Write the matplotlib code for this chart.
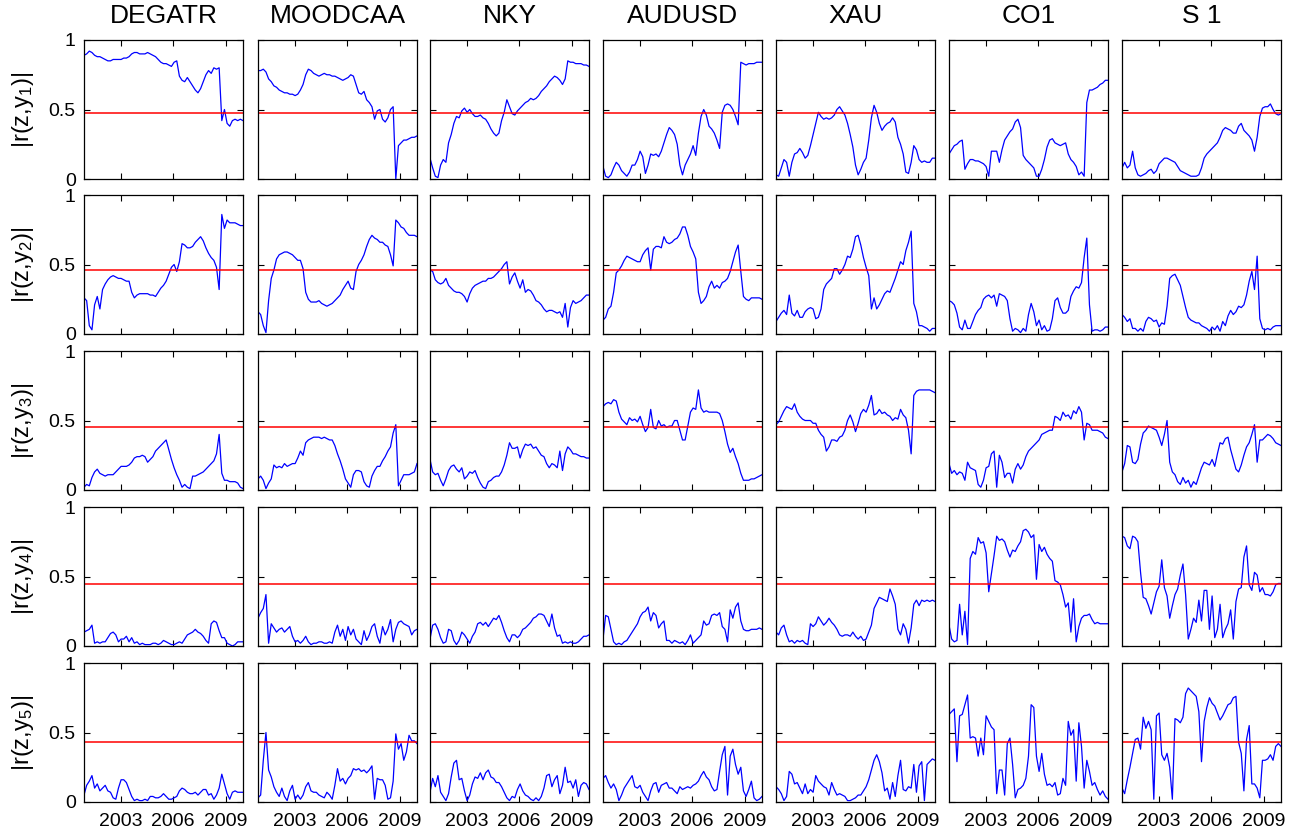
import numpy as np
import matplotlib
matplotlib.use('Agg')
import matplotlib.pyplot as plt

plt.rcParams['font.family'] = ['Liberation Sans', 'DejaVu Sans']
plt.rcParams['mathtext.fontset'] = 'custom'
plt.rcParams['mathtext.rm'] = 'Liberation Sans'
plt.rcParams['mathtext.it'] = 'Liberation Sans'

#time axis (monthly-ish samples over the window) and panel labels
years = np.linspace(2000.9, 2010.0, 61)
assets = ['DEGATR', 'MOODCAA', 'NKY', 'AUDUSD', 'XAU', 'CO1', 'S 1']
thresholds = [0.476, 0.463, 0.451, 0.443, 0.431]
xticks = [2003, 2006, 2009]

#row 1: |r(z,y1)|
degatr_1 = [0.89,0.90,0.92,0.91,0.89,0.88,0.88,0.87,0.86,0.85,
            0.85,0.86,0.86,0.86,0.86,0.87,0.87,0.88,0.90,0.91,
            0.91,0.90,0.90,0.90,0.91,0.90,0.89,0.88,0.86,0.84,
            0.83,0.83,0.82,0.81,0.84,0.85,0.74,0.71,0.70,0.73,
            0.70,0.67,0.64,0.62,0.65,0.70,0.75,0.78,0.76,0.80,
            0.79,0.80,0.42,0.50,0.40,0.38,0.42,0.43,0.42,0.43,0.42]
moodcaa_1 = [0.78,0.78,0.79,0.77,0.72,0.70,0.67,0.66,0.64,0.63,
             0.62,0.62,0.61,0.61,0.60,0.61,0.64,0.68,0.75,0.79,
             0.78,0.76,0.75,0.74,0.75,0.76,0.75,0.75,0.74,0.74,
             0.73,0.72,0.71,0.72,0.73,0.75,0.74,0.68,0.62,0.61,
             0.63,0.57,0.55,0.52,0.43,0.49,0.50,0.43,0.41,0.44,
             0.50,0.52,0.00,0.24,0.26,0.28,0.28,0.29,0.30,0.30,0.31]
nky_1 = [0.15,0.08,0.02,0.01,0.10,0.14,0.12,0.26,0.32,0.40,
         0.45,0.44,0.49,0.51,0.48,0.50,0.47,0.45,0.45,0.46,
         0.44,0.43,0.40,0.36,0.33,0.31,0.33,0.42,0.48,0.57,
         0.52,0.47,0.46,0.49,0.51,0.53,0.55,0.56,0.58,0.57,
         0.58,0.60,0.63,0.65,0.67,0.70,0.72,0.74,0.73,0.71,
         0.68,0.72,0.85,0.84,0.84,0.83,0.83,0.83,0.82,0.82,0.81]
audusd_1 = [0.09,0.02,0.01,0.03,0.08,0.12,0.10,0.06,0.04,0.02,
            0.05,0.10,0.10,0.14,0.20,0.16,0.04,0.10,0.18,0.17,
            0.18,0.16,0.20,0.26,0.32,0.37,0.35,0.32,0.25,0.10,
            0.03,0.10,0.14,0.18,0.24,0.17,0.33,0.45,0.50,0.46,
            0.38,0.36,0.33,0.28,0.22,0.48,0.53,0.54,0.53,0.50,
            0.45,0.39,0.84,0.83,0.82,0.83,0.83,0.83,0.84,0.84,0.84]
xau_1 = [0.03,0.02,0.08,0.14,0.12,0.02,0.12,0.18,0.19,0.22,
         0.19,0.15,0.17,0.24,0.32,0.40,0.48,0.45,0.43,0.44,
         0.43,0.44,0.46,0.50,0.52,0.49,0.46,0.40,0.32,0.23,
         0.10,0.03,0.07,0.12,0.15,0.28,0.44,0.53,0.48,0.40,
         0.35,0.38,0.40,0.41,0.44,0.41,0.30,0.25,0.18,0.05,
         0.04,0.12,0.24,0.21,0.14,0.12,0.13,0.12,0.12,0.15,0.15]
co1_1 = [0.18,0.21,0.24,0.25,0.27,0.28,0.07,0.11,0.14,0.14,
         0.13,0.13,0.12,0.11,0.09,0.02,0.20,0.20,0.20,0.12,
         0.21,0.28,0.31,0.34,0.36,0.41,0.43,0.37,0.17,0.14,
         0.12,0.10,0.08,0.02,0.02,0.07,0.14,0.23,0.28,0.29,
         0.26,0.25,0.24,0.25,0.26,0.18,0.14,0.12,0.09,0.03,
         0.05,0.02,0.55,0.64,0.64,0.65,0.66,0.68,0.69,0.71,0.71]
s1_1 = [0.08,0.12,0.08,0.10,0.20,0.08,0.03,0.02,0.03,0.04,
        0.06,0.07,0.04,0.06,0.11,0.13,0.15,0.15,0.14,0.13,
        0.12,0.09,0.06,0.05,0.04,0.03,0.02,0.02,0.02,0.03,
        0.08,0.15,0.18,0.20,0.22,0.24,0.26,0.30,0.35,0.37,
        0.36,0.35,0.33,0.33,0.38,0.40,0.35,0.33,0.31,0.28,
        0.20,0.30,0.45,0.51,0.52,0.52,0.54,0.50,0.47,0.46,0.47]

#row 2: |r(z,y2)|
degatr_2 = [0.26,0.24,0.06,0.03,0.21,0.27,0.18,0.32,0.36,0.39,
            0.41,0.42,0.41,0.40,0.40,0.39,0.38,0.38,0.30,0.26,
            0.28,0.29,0.29,0.29,0.29,0.28,0.28,0.27,0.30,0.33,
            0.35,0.38,0.43,0.48,0.50,0.45,0.52,0.65,0.64,0.62,
            0.62,0.63,0.66,0.68,0.70,0.67,0.62,0.58,0.55,0.53,
            0.48,0.32,0.86,0.76,0.82,0.80,0.80,0.80,0.79,0.78,0.78]
moodcaa_2 = [0.16,0.14,0.06,0.01,0.24,0.40,0.46,0.54,0.57,0.58,
             0.59,0.59,0.58,0.57,0.55,0.53,0.53,0.47,0.30,0.25,
             0.23,0.23,0.23,0.24,0.22,0.21,0.20,0.21,0.22,0.24,
             0.26,0.28,0.32,0.35,0.38,0.33,0.32,0.45,0.50,0.53,
             0.57,0.63,0.68,0.71,0.69,0.68,0.66,0.66,0.64,0.63,
             0.57,0.49,0.82,0.80,0.77,0.76,0.73,0.71,0.71,0.71,0.70]
nky_2 = [0.46,0.45,0.39,0.37,0.36,0.37,0.40,0.35,0.33,0.31,
         0.30,0.30,0.29,0.27,0.23,0.29,0.33,0.35,0.36,0.37,
         0.38,0.38,0.40,0.40,0.41,0.43,0.45,0.47,0.50,0.52,
         0.36,0.41,0.44,0.38,0.33,0.39,0.30,0.32,0.31,0.28,
         0.24,0.23,0.21,0.18,0.16,0.17,0.17,0.16,0.15,0.16,
         0.12,0.22,0.05,0.19,0.24,0.22,0.23,0.24,0.26,0.28,0.28]
audusd_2 = [0.10,0.12,0.18,0.20,0.30,0.44,0.46,0.49,0.53,0.56,
            0.55,0.54,0.53,0.52,0.52,0.57,0.60,0.62,0.46,0.61,
            0.63,0.63,0.62,0.70,0.66,0.65,0.66,0.68,0.69,0.72,
            0.77,0.77,0.71,0.63,0.59,0.54,0.30,0.22,0.24,0.27,
            0.34,0.38,0.33,0.35,0.33,0.37,0.38,0.40,0.45,0.52,
            0.59,0.64,0.45,0.27,0.25,0.24,0.26,0.26,0.26,0.26,0.25]
xau_2 = [0.09,0.12,0.15,0.17,0.14,0.28,0.15,0.13,0.17,0.12,
         0.12,0.16,0.18,0.19,0.18,0.11,0.12,0.18,0.32,0.36,
         0.38,0.40,0.47,0.47,0.43,0.46,0.50,0.56,0.55,0.61,
         0.70,0.71,0.64,0.55,0.48,0.42,0.18,0.26,0.18,0.21,
         0.25,0.29,0.31,0.30,0.35,0.40,0.46,0.52,0.50,0.60,
         0.66,0.74,0.22,0.16,0.06,0.06,0.05,0.04,0.02,0.04,0.04]
co1_2 = [0.24,0.23,0.21,0.15,0.05,0.03,0.10,0.04,0.04,0.09,
         0.14,0.17,0.19,0.25,0.27,0.28,0.26,0.28,0.20,0.29,
         0.28,0.27,0.24,0.11,0.02,0.04,0.03,0.01,0.04,0.02,
         0.14,0.22,0.16,0.06,0.10,0.03,0.06,0.02,0.03,0.11,
         0.24,0.26,0.19,0.15,0.15,0.17,0.27,0.31,0.34,0.33,
         0.37,0.55,0.69,0.21,0.02,0.03,0.03,0.02,0.03,0.05,0.05]
s1_2 = [0.14,0.12,0.09,0.11,0.04,0.04,0.02,0.04,0.02,0.09,
        0.12,0.11,0.09,0.10,0.05,0.08,0.07,0.20,0.40,0.42,
        0.43,0.39,0.35,0.27,0.19,0.12,0.10,0.09,0.08,0.08,
        0.06,0.05,0.04,0.02,0.05,0.03,0.06,0.02,0.09,0.06,
        0.13,0.17,0.14,0.16,0.20,0.19,0.21,0.28,0.38,0.45,
        0.32,0.56,0.11,0.04,0.03,0.04,0.03,0.05,0.06,0.06,0.06]

#row 3: |r(z,y3)|
degatr_3 = [0.02,0.04,0.03,0.09,0.13,0.15,0.12,0.11,0.10,0.11,
            0.11,0.11,0.13,0.15,0.17,0.17,0.17,0.18,0.20,0.23,
            0.24,0.24,0.25,0.24,0.20,0.22,0.24,0.28,0.30,0.32,
            0.34,0.36,0.29,0.22,0.16,0.11,0.07,0.02,0.04,0.02,
            0.01,0.10,0.10,0.11,0.12,0.13,0.15,0.17,0.19,0.21,
            0.26,0.40,0.12,0.07,0.07,0.06,0.06,0.06,0.05,0.02,0.01]
moodcaa_3 = [0.08,0.10,0.07,0.01,0.05,0.08,0.18,0.16,0.17,0.16,
             0.19,0.17,0.18,0.19,0.19,0.23,0.28,0.25,0.34,0.36,
             0.37,0.38,0.38,0.38,0.37,0.38,0.37,0.36,0.36,0.32,
             0.26,0.21,0.15,0.08,0.05,0.02,0.11,0.14,0.14,0.13,
             0.06,0.03,0.02,0.10,0.14,0.17,0.17,0.21,0.24,0.28,
             0.31,0.41,0.47,0.03,0.07,0.11,0.11,0.11,0.12,0.13,0.19]
nky_3 = [0.22,0.13,0.11,0.12,0.07,0.03,0.08,0.14,0.17,0.18,
         0.15,0.13,0.16,0.08,0.10,0.13,0.12,0.14,0.09,0.05,
         0.02,0.01,0.06,0.07,0.09,0.10,0.10,0.13,0.18,0.25,
         0.34,0.30,0.30,0.31,0.23,0.29,0.33,0.32,0.33,0.30,
         0.31,0.28,0.25,0.24,0.19,0.16,0.19,0.18,0.16,0.28,
         0.14,0.26,0.31,0.29,0.26,0.26,0.25,0.24,0.24,0.23,0.23]
audusd_3 = [0.60,0.62,0.63,0.62,0.65,0.64,0.56,0.51,0.49,0.47,
            0.52,0.50,0.51,0.49,0.53,0.47,0.42,0.45,0.58,0.45,
            0.44,0.50,0.46,0.47,0.45,0.46,0.46,0.50,0.50,0.43,
            0.36,0.36,0.46,0.56,0.59,0.58,0.72,0.59,0.56,0.57,
            0.56,0.56,0.56,0.56,0.55,0.50,0.42,0.33,0.27,0.30,
            0.24,0.19,0.12,0.07,0.07,0.07,0.08,0.08,0.09,0.10,0.11]
xau_3 = [0.47,0.49,0.53,0.57,0.60,0.59,0.58,0.62,0.56,0.53,
         0.51,0.50,0.50,0.50,0.48,0.48,0.43,0.40,0.38,0.28,
         0.31,0.36,0.36,0.35,0.38,0.39,0.43,0.50,0.54,0.49,
         0.42,0.48,0.55,0.58,0.56,0.61,0.68,0.54,0.55,0.58,
         0.55,0.56,0.54,0.53,0.50,0.52,0.51,0.58,0.54,0.52,
         0.43,0.26,0.68,0.71,0.72,0.72,0.72,0.72,0.72,0.71,0.70]
co1_3 = [0.19,0.12,0.14,0.11,0.13,0.12,0.07,0.20,0.16,0.15,
         0.14,0.04,0.02,0.07,0.16,0.17,0.26,0.28,0.02,0.25,
         0.20,0.09,0.12,0.12,0.05,0.15,0.19,0.15,0.18,0.24,
         0.28,0.30,0.32,0.34,0.36,0.40,0.41,0.42,0.43,0.43,
         0.53,0.52,0.50,0.56,0.53,0.54,0.51,0.57,0.55,0.60,
         0.56,0.36,0.48,0.47,0.43,0.43,0.43,0.42,0.41,0.38,0.37]
s1_3 = [0.13,0.19,0.32,0.31,0.20,0.19,0.22,0.33,0.41,0.43,
        0.46,0.45,0.44,0.43,0.38,0.32,0.40,0.50,0.20,0.13,
        0.11,0.06,0.04,0.09,0.05,0.07,0.02,0.06,0.04,0.10,
        0.16,0.20,0.19,0.18,0.22,0.17,0.26,0.34,0.33,0.37,
        0.38,0.29,0.22,0.15,0.13,0.18,0.25,0.31,0.34,0.40,
        0.47,0.20,0.36,0.36,0.38,0.40,0.39,0.37,0.34,0.33,0.32]

#row 4: |r(z,y4)|
degatr_4 = [0.10,0.11,0.12,0.15,0.02,0.03,0.02,0.03,0.03,0.06,
            0.09,0.10,0.08,0.03,0.05,0.05,0.07,0.03,0.06,0.02,
            0.03,0.01,0.02,0.01,0.01,0.01,0.02,0.02,0.01,0.02,
            0.04,0.03,0.02,0.01,0.01,0.02,0.03,0.02,0.05,0.08,
            0.09,0.10,0.12,0.10,0.09,0.07,0.04,0.02,0.16,0.18,
            0.17,0.11,0.06,0.06,0.02,0.01,0.00,0.01,0.03,0.03,0.03]
moodcaa_4 = [0.20,0.24,0.27,0.37,0.02,0.16,0.13,0.10,0.12,0.13,
             0.10,0.12,0.14,0.07,0.03,0.04,0.02,0.04,0.07,0.03,
             0.01,0.02,0.02,0.03,0.03,0.02,0.02,0.03,0.02,0.10,
             0.15,0.07,0.12,0.04,0.14,0.08,0.12,0.05,0.03,0.01,
             0.11,0.04,0.08,0.14,0.16,0.07,0.02,0.14,0.08,0.12,
             0.19,0.03,0.12,0.17,0.18,0.16,0.15,0.14,0.08,0.11,0.12]
nky_4 = [0.05,0.15,0.16,0.12,0.06,0.02,0.03,0.12,0.11,0.04,
         0.01,0.04,0.10,0.08,0.05,0.02,0.07,0.10,0.16,0.17,
         0.15,0.17,0.14,0.17,0.20,0.19,0.22,0.17,0.11,0.06,
         0.03,0.08,0.08,0.06,0.08,0.12,0.13,0.15,0.17,0.20,
         0.21,0.23,0.23,0.22,0.18,0.14,0.23,0.13,0.07,0.08,
         0.02,0.03,0.02,0.03,0.02,0.02,0.03,0.05,0.07,0.07,0.08]
audusd_4 = [0.05,0.22,0.21,0.12,0.03,0.01,0.02,0.01,0.03,0.04,
            0.07,0.10,0.13,0.16,0.21,0.24,0.25,0.28,0.18,0.24,
            0.22,0.13,0.16,0.18,0.04,0.04,0.02,0.04,0.03,0.02,
            0.03,0.01,0.04,0.08,0.02,0.04,0.06,0.08,0.18,0.15,
            0.16,0.22,0.23,0.22,0.24,0.14,0.12,0.03,0.26,0.20,
            0.28,0.31,0.18,0.12,0.11,0.11,0.12,0.12,0.12,0.13,0.12]
xau_4 = [0.10,0.08,0.13,0.15,0.08,0.03,0.04,0.02,0.04,0.03,
         0.04,0.02,0.01,0.16,0.14,0.16,0.21,0.18,0.15,0.17,
         0.20,0.17,0.15,0.12,0.08,0.07,0.08,0.08,0.07,0.10,
         0.07,0.05,0.07,0.04,0.05,0.10,0.15,0.27,0.31,0.35,
         0.34,0.33,0.32,0.41,0.36,0.30,0.12,0.08,0.16,0.12,
         0.02,0.13,0.30,0.33,0.29,0.33,0.32,0.33,0.32,0.33,0.32]
co1_4 = [0.15,0.05,0.03,0.04,0.30,0.08,0.25,0.01,0.63,0.68,
         0.66,0.78,0.74,0.75,0.67,0.39,0.52,0.65,0.79,0.76,
         0.77,0.75,0.69,0.64,0.69,0.68,0.72,0.75,0.83,0.84,
         0.82,0.78,0.80,0.48,0.73,0.68,0.71,0.66,0.63,0.61,
         0.47,0.46,0.44,0.37,0.28,0.31,0.10,0.34,0.03,0.14,
         0.20,0.22,0.22,0.23,0.19,0.16,0.17,0.16,0.16,0.16,0.16]
s1_4 = [0.79,0.78,0.72,0.70,0.79,0.78,0.75,0.53,0.35,0.34,
        0.29,0.23,0.31,0.39,0.43,0.62,0.42,0.36,0.20,0.29,
        0.37,0.41,0.51,0.59,0.37,0.05,0.12,0.20,0.17,0.33,
        0.18,0.40,0.40,0.12,0.36,0.06,0.12,0.30,0.06,0.12,
        0.16,0.26,0.05,0.32,0.41,0.42,0.64,0.72,0.44,0.40,
        0.53,0.51,0.39,0.42,0.37,0.37,0.36,0.39,0.44,0.45,0.45]

#row 5: |r(z,y5)|
degatr_5 = [0.05,0.12,0.15,0.19,0.10,0.13,0.08,0.10,0.12,0.08,
            0.07,0.03,0.02,0.10,0.16,0.16,0.14,0.09,0.04,0.01,
            0.02,0.01,0.01,0.02,0.01,0.04,0.04,0.03,0.03,0.04,
            0.06,0.04,0.02,0.02,0.03,0.04,0.08,0.10,0.09,0.07,
            0.06,0.06,0.07,0.05,0.07,0.09,0.09,0.05,0.06,0.02,
            0.05,0.10,0.20,0.13,0.06,0.02,0.07,0.08,0.07,0.07,0.07]
moodcaa_5 = [0.03,0.05,0.30,0.50,0.23,0.18,0.11,0.07,0.04,0.10,
             0.04,0.01,0.08,0.12,0.02,0.05,0.02,0.05,0.11,0.14,
             0.08,0.07,0.07,0.05,0.04,0.03,0.07,0.05,0.02,0.12,
             0.24,0.15,0.17,0.13,0.17,0.19,0.24,0.23,0.24,0.22,
             0.23,0.21,0.23,0.26,0.02,0.17,0.16,0.16,0.12,0.02,
             0.03,0.15,0.49,0.38,0.42,0.30,0.36,0.48,0.44,0.44,0.42]
nky_5 = [0.07,0.17,0.11,0.19,0.07,0.04,0.01,0.06,0.18,0.28,
         0.30,0.16,0.17,0.08,0.01,0.05,0.13,0.18,0.17,0.21,
         0.16,0.21,0.23,0.18,0.17,0.14,0.14,0.11,0.07,0.03,
         0.01,0.04,0.03,0.09,0.13,0.08,0.05,0.04,0.02,0.01,
         0.03,0.01,0.04,0.10,0.19,0.20,0.11,0.16,0.19,0.06,
         0.12,0.25,0.14,0.15,0.10,0.16,0.04,0.12,0.14,0.13,0.09]
audusd_5 = [0.17,0.19,0.14,0.10,0.13,0.09,0.01,0.05,0.10,0.13,
            0.16,0.19,0.11,0.10,0.12,0.07,0.04,0.01,0.08,0.13,
            0.14,0.07,0.12,0.13,0.14,0.10,0.10,0.08,0.06,0.11,
            0.09,0.10,0.11,0.10,0.12,0.13,0.15,0.19,0.22,0.18,
            0.16,0.11,0.08,0.09,0.22,0.34,0.40,0.05,0.33,0.38,
            0.27,0.20,0.25,0.08,0.04,0.09,0.15,0.03,0.01,0.02,0.04]
xau_5 = [0.11,0.09,0.06,0.01,0.04,0.22,0.20,0.13,0.14,0.10,
         0.06,0.13,0.06,0.09,0.07,0.19,0.15,0.13,0.11,0.10,
         0.05,0.14,0.09,0.05,0.06,0.05,0.04,0.01,0.01,0.02,
         0.03,0.05,0.05,0.08,0.11,0.16,0.23,0.30,0.34,0.29,
         0.21,0.08,0.10,0.02,0.14,0.04,0.19,0.30,0.09,0.08,
         0.11,0.10,0.27,0.07,0.26,0.29,0.01,0.27,0.29,0.31,0.30]
co1_5 = [0.63,0.65,0.67,0.29,0.62,0.63,0.70,0.77,0.46,0.47,
         0.46,0.33,0.46,0.34,0.62,0.58,0.54,0.52,0.06,0.23,
         0.23,0.05,0.42,0.46,0.27,0.03,0.09,0.10,0.12,0.17,
         0.33,0.70,0.68,0.33,0.22,0.35,0.20,0.12,0.13,0.11,
         0.14,0.05,0.06,0.17,0.12,0.58,0.48,0.52,0.15,0.57,
         0.40,0.10,0.30,0.22,0.12,0.14,0.09,0.05,0.08,0.04,0.02]
s1_5 = [0.10,0.06,0.16,0.25,0.35,0.45,0.46,0.38,0.61,0.53,
        0.58,0.52,0.02,0.62,0.64,0.34,0.30,0.35,0.25,0.02,
        0.60,0.59,0.57,0.61,0.78,0.82,0.80,0.78,0.76,0.65,
        0.29,0.58,0.68,0.75,0.71,0.69,0.64,0.59,0.62,0.66,
        0.70,0.71,0.75,0.76,0.43,0.35,0.08,0.45,0.55,0.13,
        0.13,0.10,0.03,0.30,0.30,0.31,0.34,0.30,0.40,0.42,0.40]

grid = [
    [degatr_1, moodcaa_1, nky_1, audusd_1, xau_1, co1_1, s1_1],
    [degatr_2, moodcaa_2, nky_2, audusd_2, xau_2, co1_2, s1_2],
    [degatr_3, moodcaa_3, nky_3, audusd_3, xau_3, co1_3, s1_3],
    [degatr_4, moodcaa_4, nky_4, audusd_4, xau_4, co1_4, s1_4],
    [degatr_5, moodcaa_5, nky_5, audusd_5, xau_5, co1_5, s1_5],
]

#panel geometry in pixels (figure is 1310 x 834)
W, H = 1310, 834
lefts = [84, 258, 430, 603, 776, 949, 1122]
tops = [40, 195, 351, 507, 663]
pw, ph = 159, 139

fig = plt.figure(figsize=(W/100, H/100), dpi=100)

for r in range(5):
    for c in range(7):
        ax = fig.add_axes([lefts[c]/W, 1-(tops[r]+ph)/H, pw/W, ph/H])
        ax.plot(years, grid[r][c], color='#0000ff', lw=0.9)
        ax.axhline(thresholds[r], color='#ff0000', lw=1.1)
        ax.set_xlim(years[0], years[-1])
        ax.set_ylim(0, 1)
        ax.set_xticks(xticks)
        ax.set_yticks([0, 0.5, 1])
        ax.tick_params(direction='in', top=True, right=True, length=4,
                       width=0.8, labelsize=14)
        ax.tick_params(axis='x', pad=8)
        ax.tick_params(axis='y', pad=6)
        for s in ax.spines.values():
            s.set_linewidth(0.9)
        if r == 4:
            ax.set_xticklabels([str(t) for t in xticks])
        else:
            ax.set_xticklabels([])
        if c == 0:
            ax.set_yticklabels(['0', '0.5', '1'])
            ax.set_ylabel('|r(z,y$_%d$)|' % (r+1), fontsize=17)
            ax.yaxis.set_label_coords(-0.30, 0.5)
        else:
            ax.set_yticklabels([])
        if r == 0:
            ax.set_title(assets[c], fontsize=19, pad=12.5)

fig.savefig('out.png', dpi=100)
